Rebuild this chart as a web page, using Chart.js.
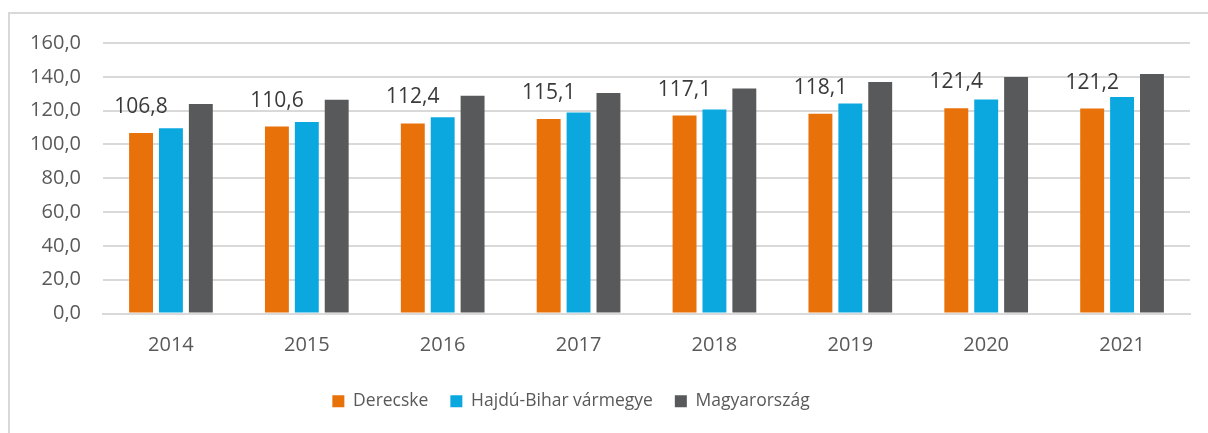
<!DOCTYPE html>
<html>
<head>
<meta charset="utf-8">
<script src="https://cdn.jsdelivr.net/npm/chart.js@4.4.1/dist/chart.umd.min.js"></script>
<style>
    html, body { margin: 0; padding: 0; background: #fff; overflow: hidden; }
    #keret {
        position: absolute; left: 8px; top: 12px;
        width: 1300px; height: 600px;
        border: 2px solid #d9d9d9;
        box-sizing: border-box;
    }
    #wrap { position: absolute; left: 0; top: 0; width: 1208px; height: 433px; }
</style>
</head>
<body>
<div id="keret"></div>
<div id="wrap"><canvas id="grafikon" width="1208" height="433"></canvas></div>
<script>
// Évek
const evek = ['2014', '2015', '2016', '2017', '2018', '2019', '2020', '2021'];

// Sorozatok
const derecske     = [106.8, 110.6, 112.4, 115.1, 117.1, 118.1, 121.4, 121.2];
const hajduBihar   = [109.6, 113.2, 116.1, 118.9, 120.7, 124.2, 126.6, 128.0];
const magyarorszag = [123.9, 126.4, 128.8, 130.4, 133.1, 136.9, 139.9, 141.6];

const sorozatNevek = ['Derecske', 'Hajdú-Bihar vármegye', 'Magyarország'];
const yTickek = [0, 20, 40, 60, 80, 100, 120, 140, 160];

const szamFormat = v => v.toFixed(1).replace('.', ',');

// csak a Derecske oszlopok fölé kerül felirat
const cimkePlugin = {
    id: 'cimkek',
    afterDatasetsDraw(chart) {
        const ctx = chart.ctx;
        const meta = chart.getDatasetMeta(0);
        ctx.save();
        ctx.font = '21px "Open Sans"';
        ctx.fillStyle = '#3a3a3a';
        ctx.textAlign = 'center';
        ctx.textBaseline = 'middle';
        meta.data.forEach((bar, i) => {
            ctx.fillText(szamFormat(derecske[i]), bar.x, bar.y - 26);
        });
        ctx.restore();
    }
};

// a jelmagyarázat kicsit balra tolva, mint az eredetin
const legendEltolas = {
    id: 'legendEltolas',
    afterLayout(chart) {
        if (chart.legend) {
            chart.legend.left -= 24;
            chart.legend.right -= 24;
        }
    }
};

const ctx = document.getElementById('grafikon').getContext('2d');
new Chart(ctx, {
    type: 'bar',
    data: {
        labels: evek,
        datasets: [
            { label: sorozatNevek[0], data: derecske,     backgroundColor: '#e8710a' },
            { label: sorozatNevek[1], data: hajduBihar,   backgroundColor: '#0ba8e0' },
            { label: sorozatNevek[2], data: magyarorszag, backgroundColor: '#58595b' }
        ]
    },
    options: {
        responsive: false,
        animation: false,
        barPercentage: 0.8,
        categoryPercentage: 0.66,
        layout: { padding: { top: 43, right: 18, bottom: 13, left: 0 } },
        plugins: {
            legend: {
                position: 'bottom',
                labels: {
                    boxWidth: 12,
                    boxHeight: 12,
                    padding: 22,
                    color: '#595959',
                    font: { family: '"Open Sans"', size: 17.5 }
                }
            },
            tooltip: { enabled: false }
        },
        scales: {
            y: {
                min: 0,
                max: 160,
                afterBuildTicks: s => { s.ticks = yTickek.map(v => ({ value: v })); },
                afterFit: s => { s.width = 103; },
                border: { display: false },
                grid: { color: '#d9d9d9', lineWidth: 2, drawTicks: false },
                ticks: {
                    padding: 22,
                    color: '#595959',
                    font: { family: '"Open Sans"', size: 20 },
                    callback: v => szamFormat(v)
                }
            },
            x: {
                afterFit: s => { s.height = 57; },
                border: { color: '#d9d9d9', width: 2 },
                grid: { display: false, drawTicks: false },
                ticks: {
                    padding: 20,
                    color: '#595959',
                    font: { family: '"Open Sans"', size: 20 }
                }
            }
        }
    },
    plugins: [cimkePlugin, legendEltolas]
});
</script>
</body>
</html>
